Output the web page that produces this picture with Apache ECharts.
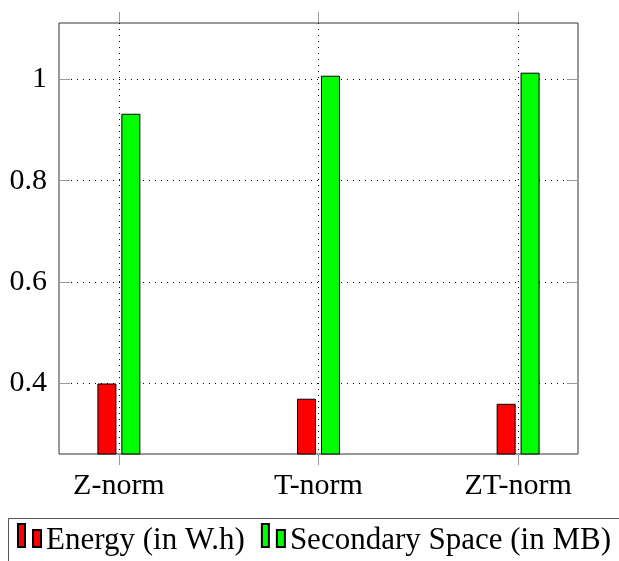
<!DOCTYPE html>
<html>
<head>
<meta charset="utf-8">
<style>
  html, body { margin: 0; padding: 0; background: #fff; }
  #chart { width: 619px; height: 561px; }
</style>
<script src="https://cdn.jsdelivr.net/npm/echarts@6/dist/echarts.min.js"></script>
</head>
<body>
<div id="chart"></div>
<script>
// Normalisation methods on the horizontal axis
const categories = ['Z-norm', 'T-norm', 'ZT-norm'];
// Measured values per method
const energy = [0.40, 0.37, 0.36];
const secondarySpace = [0.932, 1.007, 1.013];
// Series names shown in the legend
const seriesNames = ['Energy (in W.h)', 'Secondary Space (in MB)'];
// Labelled ticks on the vertical axis
const yTicks = [0.4, 0.6, 0.8, 1];
const yRange = [0.261, 1.111];

const catIdx = categories.map((_, i) => i);
const FONT = '"Liberation Serif", "Times New Roman", serif';
const tickGray = '#9a9a9a';
const dotted = { color: '#000', width: 1, type: [1, 5] };

// Two-bar legend glyph, as pgfplots draws it for ybar plots
const barIcon = 'path://M0,0H7V23H0Z M15,6H23V23H15Z';

const chart = echarts.init(document.getElementById('chart'), null, { renderer: 'canvas' });

chart.setOption({
  animation: false,
  backgroundColor: '#fff',
  textStyle: { fontFamily: FONT },
  grid: {
    left: 59, right: 41, top: 23, bottom: 107,
    show: true, borderColor: '#333', borderWidth: 1
  },
  xAxis: [
    {
      type: 'value', position: 'bottom',
      min: -0.3, max: catIdx.length - 1 + 0.3,
      axisLine: { show: false, onZero: false },
      axisTick: { show: true, inside: false, length: 11, customValues: catIdx, lineStyle: { color: tickGray } },
      axisLabel: {
        customValues: catIdx, margin: 17,
        formatter: v => categories[Math.round(v)],
        fontFamily: FONT, fontSize: 30, color: '#000'
      },
      splitLine: { show: true, lineStyle: dotted }
    },
    {
      type: 'value', position: 'top',
      min: -0.3, max: catIdx.length - 1 + 0.3,
      axisLine: { show: false, onZero: false },
      axisTick: { show: true, inside: false, length: 11, customValues: catIdx, lineStyle: { color: tickGray } },
      axisLabel: { show: false },
      splitLine: { show: false }
    }
  ],
  yAxis: [
    {
      type: 'value', position: 'left',
      min: yRange[0], max: yRange[1],
      axisLine: { show: false, onZero: false },
      axisTick: { show: true, inside: true, length: 11, customValues: yTicks, lineStyle: { color: tickGray } },
      axisLabel: {
        customValues: yTicks, margin: 12,
        formatter: v => String(+v.toFixed(2)),
        fontFamily: FONT, fontSize: 30, color: '#000'
      },
      splitLine: { show: true, lineStyle: dotted }
    },
    {
      type: 'value', position: 'right',
      min: yRange[0], max: yRange[1],
      axisLine: { show: false, onZero: false },
      axisTick: { show: true, inside: true, length: 11, customValues: yTicks, lineStyle: { color: tickGray } },
      axisLabel: { show: false },
      splitLine: { show: false }
    }
  ],
  legend: {
    left: 17, top: 523, padding: 0,
    orient: 'horizontal',
    selectedMode: false,
    itemWidth: 23, itemHeight: 23, itemGap: 16,
    icon: barIcon,
    formatter: name => '{t|' + name + '}',
    textStyle: {
      fontFamily: FONT, fontSize: 31, color: '#000',
      rich: { t: { fontFamily: FONT, fontSize: 31, color: '#000', padding: [10, 0, 0, 0] } }
    },
    data: seriesNames
  },
  graphic: [
    {
      type: 'rect', silent: true,
      shape: { x: 8.5, y: 518.5, width: 700, height: 100 },
      style: { fill: 'none', stroke: '#555', lineWidth: 1 }
    }
  ],
  series: [
    {
      name: seriesNames[0], type: 'bar',
      xAxisIndex: 0, yAxisIndex: 0,
      barWidth: 19, barGap: '26%',
      itemStyle: { color: '#ff0000', borderColor: '#000', borderWidth: 1 },
      data: energy.map((v, i) => [catIdx[i], v])
    },
    {
      name: seriesNames[1], type: 'bar',
      xAxisIndex: 0, yAxisIndex: 0,
      barWidth: 19, barGap: '26%',
      itemStyle: { color: '#00ff00', borderColor: '#000', borderWidth: 1 },
      data: secondarySpace.map((v, i) => [catIdx[i], v])
    }
  ]
});
</script>
</body>
</html>
